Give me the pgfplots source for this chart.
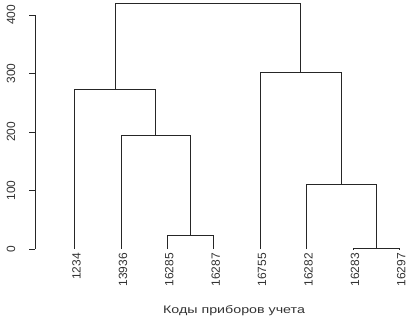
\documentclass[border=0pt]{standalone}
\usepackage{fontspec}
\setmainfont{Liberation Sans}
\newfontfamily\titlefont[FakeStretch=1.3]{Liberation Sans}
\usepackage{pgfplots}
\pgfplotsset{compat=1.18}
\tikzset{dend/.style={black!85, line width=0.7bp, mark=none, solid}}
\begin{document}
\begin{tikzpicture}
\begin{axis}[
  at={(0,0)}, anchor=south west,
  scale only axis,
  width=373.1bp, height=234bp,
  xmin=0.16, xmax=8.2,
  ymin=0, ymax=400,
  clip=false,
  axis y line*=left,
  axis x line*=bottom,
  x axis line style={draw=none},
  y axis line style={black!85, line width=0.6bp},
  xtick={1,2,3,4,5,6,7,8},
  xticklabels={1234,13936,16285,16287,16755,16282,16283,16297},
  xtick style={draw=none},
  ytick={0,100,200,300,400},
  yticklabels={0,100,200,300,400},
  ytick style={black!85, line width=0.6bp},
  tick align=outside,
  major tick length=6bp,
  minor tick num=0,
  tick label style={font=\fontsize{12}{14}\selectfont, text=black!80},
  xticklabel style={rotate=90, anchor=east, inner sep=0pt, xshift=2bp, yshift=-2bp},
  yticklabel style={rotate=90, anchor=south, inner sep=0pt, yshift=14bp},
  xlabel={\titlefont\fontsize{11}{13}\selectfont Коды приборов учета},
  xlabel style={at={(axis description cs:0.5,0)}, anchor=base, yshift=-64.5bp, xshift=12bp, text=black!80},
]
% A: 16285 & 16287
\addplot[dend] coordinates {(3,0) (3,23) (4,23) (4,0)};
% B: 13936 & A
\addplot[dend] coordinates {(2,0) (2,193.7) (3.5,193.7) (3.5,23)};
% C: 1234 & B
\addplot[dend] coordinates {(1,0) (1,273.5) (2.75,273.5) (2.75,193.7)};
% D: 16283 & 16297
\addplot[dend] coordinates {(7,0) (7,0.5) (8,0.5) (8,0)};
% E: 16282 & D
\addplot[dend] coordinates {(6,0) (6,111) (7.5,111) (7.5,0.5)};
% F: 16755 & E
\addplot[dend] coordinates {(5,0) (5,302.6) (6.75,302.6) (6.75,111)};
% G: C & F
\addplot[dend] coordinates {(1.875,273.5) (1.875,420) (5.875,420) (5.875,302.6)};
\end{axis}
\path (-35.5bp,-73bp) rectangle (374.5bp,249bp);
\end{tikzpicture}
\end{document}
